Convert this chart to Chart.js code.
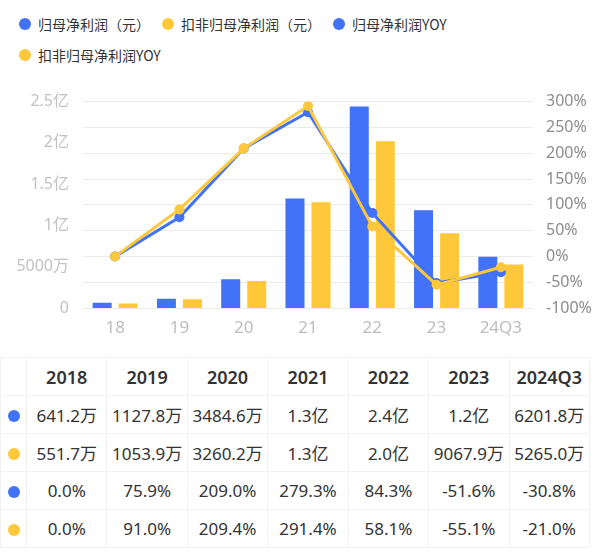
<!DOCTYPE html>
<html>
<head>
<meta charset="utf-8">
<script src="https://cdn.jsdelivr.net/npm/chart.js@4.4.0/dist/chart.umd.min.js"></script>
<style>
  html, body { margin: 0; padding: 0; background: #fff; overflow: hidden; }
  body { width: 599px; height: 553px; font-family: 'Noto Sans', 'Noto Sans CJK SC', sans-serif; color: #333; }
  #legend { height: 78px; box-sizing: border-box; padding: 14px 0 0 19px; display: flex; flex-wrap: wrap; row-gap: 11px; column-gap: 12px; align-content: flex-start; }
  .lg-item { display: flex; align-items: center; height: 20px; font-size: 14px; font-family: 'Noto Sans CJK SC', sans-serif; color: #333; }
  .dot { display: inline-block; width: 12px; height: 12px; border-radius: 50%; margin-right: 7px; }
  #wrap { position: relative; width: 599px; height: 272px; }
  table { border-collapse: collapse; margin-top: 7px; width: 590px; table-layout: fixed; }
  td, th { border: 1px solid #f2f2f2; text-align: center; height: 37px; padding: 0; white-space: nowrap; }
  th { font-size: 18px; font-weight: 600; color: #333; }
  td { font-size: 17px; color: #333; }
  td.first, th.first { width: 25px; }
</style>
</head>
<body>
<div id="legend"></div>
<div id="wrap"><canvas id="myChart"></canvas></div>
<table id="tbl"></table>
<script>
// -- data --
const categories  = ['18', '19', '20', '21', '22', '23', '24Q3'];
const years       = ['2018', '2019', '2020', '2021', '2022', '2023', '2024Q3'];
const seriesNames = ['归母净利润（元）', '扣非归母净利润（元）', '归母净利润YOY', '扣非归母净利润YOY'];
// 万元
const netProfit    = [641.2, 1127.8, 3484.6, 13260, 24400, 11850, 6201.8];
const netProfitKf  = [551.7, 1053.9, 3260.2, 12800, 20200, 9067.9, 5265.0];
// %
const netProfitYoy = [0.0, 75.9, 209.0, 279.3, 84.3, -51.6, -30.8];
const netProfitKfYoy = [0.0, 91.0, 209.4, 291.4, 58.1, -55.1, -21.0];

const BLUE   = '#4172f7';
const YELLOW = '#ffc73a';
const seriesColors = [BLUE, YELLOW, BLUE, YELLOW];

function fmtMoney(v) {
    if (v >= 10000) return (v / 10000).toFixed(1) + '亿';
    return v.toFixed(1) + '万';
}
function fmtAxisMoney(v) {
    if (v === 0) return '0';
    if (v >= 10000) return (v / 10000) + '亿';
    return v + '万';
}

// -- legend --
const legend = document.getElementById('legend');
seriesNames.forEach((name, i) => {
    const item = document.createElement('div');
    item.className = 'lg-item';
    item.innerHTML = '<span class="dot" style="background:' + seriesColors[i] + '"></span>' + name;
    legend.appendChild(item);
});

// -- chart --
const ctx = document.getElementById('myChart').getContext('2d');
const myChart = new Chart(ctx, {
    data: {
        labels: categories,
        datasets: [
            { type: 'bar', label: seriesNames[0], data: netProfit, yAxisID: 'y',
              backgroundColor: BLUE, order: 2,
              categoryPercentage: 0.81, barPercentage: 0.73 },
            { type: 'bar', label: seriesNames[1], data: netProfitKf, yAxisID: 'y',
              backgroundColor: YELLOW, order: 3,
              categoryPercentage: 0.81, barPercentage: 0.73 },
            { type: 'line', label: seriesNames[2], data: netProfitYoy, yAxisID: 'y1',
              borderColor: BLUE, backgroundColor: BLUE, borderWidth: 3,
              pointRadius: 5, pointBorderWidth: 0, pointBackgroundColor: BLUE,
              tension: 0, order: 1 },
            { type: 'line', label: seriesNames[3], data: netProfitKfYoy, yAxisID: 'y1',
              borderColor: YELLOW, backgroundColor: YELLOW, borderWidth: 3,
              pointRadius: 5, pointBorderWidth: 0, pointBackgroundColor: YELLOW,
              tension: 0, order: 0 }
        ]
    },
    options: {
        responsive: true,
        maintainAspectRatio: false,
        animation: false,
        layout: { padding: { top: 17, left: 0, right: 0, bottom: 0 } },
        plugins: { legend: { display: false }, tooltip: { enabled: false } },
        scales: {
            x: {
                grid: { display: false, drawTicks: false },
                border: { display: false },
                ticks: { color: '#bdbdbd', font: { size: 17, family: "'Noto Sans', sans-serif" }, padding: 10 },
                afterFit: s => { s.height = 42; }
            },
            y: {
                position: 'left', min: 0, max: 25000,
                grid: { display: false, drawTicks: false },
                border: { display: false },
                ticks: { stepSize: 5000, color: '#c2c2c2', padding: 14,
                         font: { size: 16, family: "'Noto Sans', 'Noto Sans CJK SC', sans-serif" },
                         callback: v => fmtAxisMoney(v) },
                afterFit: s => { s.width = 83; }
            },
            y1: {
                position: 'right', min: -100, max: 300,
                grid: { color: '#ebebeb', drawTicks: false },
                border: { display: false },
                ticks: { stepSize: 50, color: '#8c8c8c', padding: 13,
                         font: { size: 16, family: "'Noto Sans', sans-serif" },
                         callback: v => v + '%' },
                afterFit: s => { s.width = 66; }
            }
        }
    }
});

// -- table --
const tbl = document.getElementById('tbl');
let html = '<tr><th class="first"></th>' + years.map(y => '<th>' + y + '</th>').join('') + '</tr>';
const rows = [
    netProfit.map(fmtMoney),
    netProfitKf.map(fmtMoney),
    netProfitYoy.map(v => v.toFixed(1) + '%'),
    netProfitKfYoy.map(v => v.toFixed(1) + '%')
];
rows.forEach((r, i) => {
    html += '<tr><td class="first"><span class="dot" style="margin:0;vertical-align:middle;background:' +
        seriesColors[i] + '"></span></td>' + r.map(c => '<td>' + c + '</td>').join('') + '</tr>';
});
tbl.innerHTML = html;
</script>
</body>
</html>
